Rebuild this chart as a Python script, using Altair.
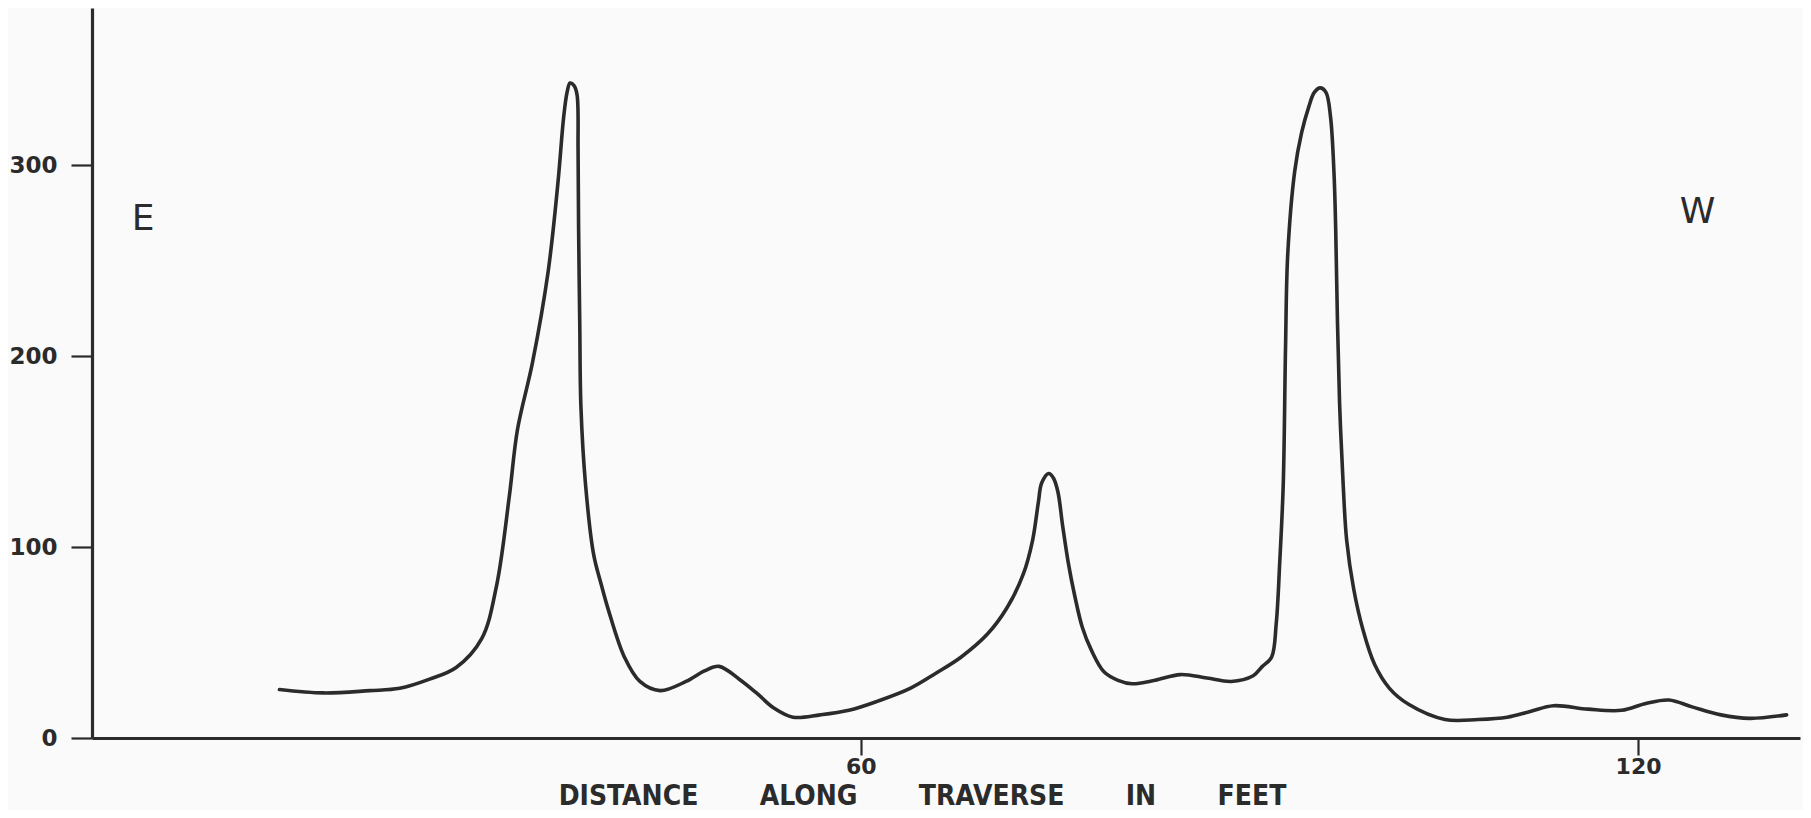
import altair as alt
import pandas as pd

# Distance along traverse (feet) and reading values
distance = [15.13, 18.52, 22.09, 24.41, 26.72, 28.77, 30.74, 31.89, 32.87, 33.50,
            34.66, 35.86, 36.62, 37.07, 37.33, 37.56, 37.87, 38.10, 38.18, 38.22,
            38.31, 38.40, 38.76, 39.38, 39.99, 40.57, 41.76, 42.95, 44.51, 46.51,
            47.94, 49.06, 50.62, 51.95, 53.29, 54.77, 56.86, 59.09, 61.31, 63.81,
            65.77, 67.73, 69.78, 71.30, 72.55, 73.26, 73.71, 73.97, 74.51, 74.87,
            75.22, 75.58, 76.03, 76.50, 77.10, 77.80, 78.79, 79.86, 80.93, 82.71,
            84.67, 86.72, 88.59, 90.29, 91.00, 91.71, 92.07, 92.34, 92.61, 92.79,
            92.96, 93.50, 94.03, 94.57, 95.01, 95.46, 95.91, 96.26, 96.53, 96.66,
            96.80, 96.97, 97.24, 97.51, 98.05, 98.76, 99.65, 100.81, 102.32, 105.09,
            107.67, 109.90, 111.68, 113.47, 116.14, 118.73, 120.60, 122.38, 124.17, 126.40,
            128.62, 131.47]
reading = [25.4, 23.6, 24.8, 26.0, 30.8, 36.9, 52.0, 79.8, 126.4, 161.4,
           196.5, 243.7, 290.3, 325.3, 338.0, 342.9, 341.6, 336.8, 307.8, 266.7,
           217.1, 173.5, 132.4, 96.1, 79.8, 65.9, 42.3, 29.6, 24.8, 29.6,
           35.1, 37.5, 30.8, 23.6, 15.7, 10.9, 12.1, 14.5, 19.3, 26.0,
           33.8, 42.3, 54.4, 68.3, 85.9, 103.4, 123.4, 133.6, 138.5, 136.1,
           128.8, 111.3, 91.3, 75.0, 58.0, 46.0, 34.5, 30.2, 28.4, 30.2,
           33.2, 31.4, 29.6, 32.6, 37.5, 42.3, 59.9, 91.9, 132.4, 205.0,
           253.4, 296.9, 316.9, 330.2, 338.0, 340.4, 338.0, 325.3, 295.7, 266.7,
           217.1, 173.5, 132.4, 103.4, 78.0, 56.8, 38.7, 26.0, 17.5, 9.7,
           9.7, 10.9, 13.9, 16.9, 15.1, 14.5, 18.1, 19.9, 16.3, 12.1,
           10.3, 12.1]

y_ticks = [0, 100, 200, 300]
x_ticks = [60, 120]

side_labels = ["E", "W"]
side_x = [4.6, 124.6]
side_y = [271.7, 275.4]

gap = "\u00a0" * 7
x_title = gap.join(["DISTANCE", "ALONG", "TRAVERSE", "IN", "FEET"])

df = pd.DataFrame({"distance": distance, "reading": reading})
lab = pd.DataFrame({"label": side_labels, "x": side_x, "y": side_y})

ink = "#2b2b2b"

x_scale = alt.Scale(domain=[0.66, 132.5], nice=False, zero=False)
y_scale = alt.Scale(domain=[0, 382.2], nice=False)

line = alt.Chart(df).mark_line(
    color=ink, strokeWidth=3.6, interpolate="catmull-rom", strokeCap="round",
    strokeJoin="round"
).encode(
    x=alt.X("distance:Q", scale=x_scale,
            axis=alt.Axis(values=x_ticks, title=x_title, grid=False,
                          domainColor=ink, domainWidth=3.2,
                          tickColor=ink, tickWidth=2.2, tickSize=17,
                          labelFont="DejaVu Sans", labelFontWeight="bold",
                          labelFontSize=22, labelColor=ink, labelPadding=1,
                          titleFont="DejaVu Sans Condensed, Liberation Sans Narrow, DejaVu Sans",
                          titleFontWeight="bold", titleFontSize=28, titleColor=ink,
                          titleX=830, titleY=58, titleAlign="center",
                          titleBaseline="middle")),
    y=alt.Y("reading:Q", scale=y_scale,
            axis=alt.Axis(values=y_ticks, title=None, grid=False,
                          domainColor=ink, domainWidth=3.2,
                          tickColor=ink, tickWidth=2.2, tickSize=21,
                          labelFont="DejaVu Sans", labelFontWeight="bold",
                          labelFontSize=23, labelColor=ink, labelPadding=14)),
)

text = alt.Chart(lab).mark_text(
    font="DejaVu Sans", fontSize=36, color=ink, align="center", baseline="middle"
).encode(
    x=alt.X("x:Q", scale=x_scale),
    y=alt.Y("y:Q", scale=y_scale),
    text="label:N",
)

chart = alt.layer(line, text).properties(
    width=1708, height=730,
    autosize=alt.AutoSizeParams(type="none"),
    padding={"left": 84, "top": 0, "right": 3, "bottom": 72},
    background="#fafafa",
).configure_view(stroke=None)

chart.save("out.html", embed_options={"renderer": "svg", "actions": False})
